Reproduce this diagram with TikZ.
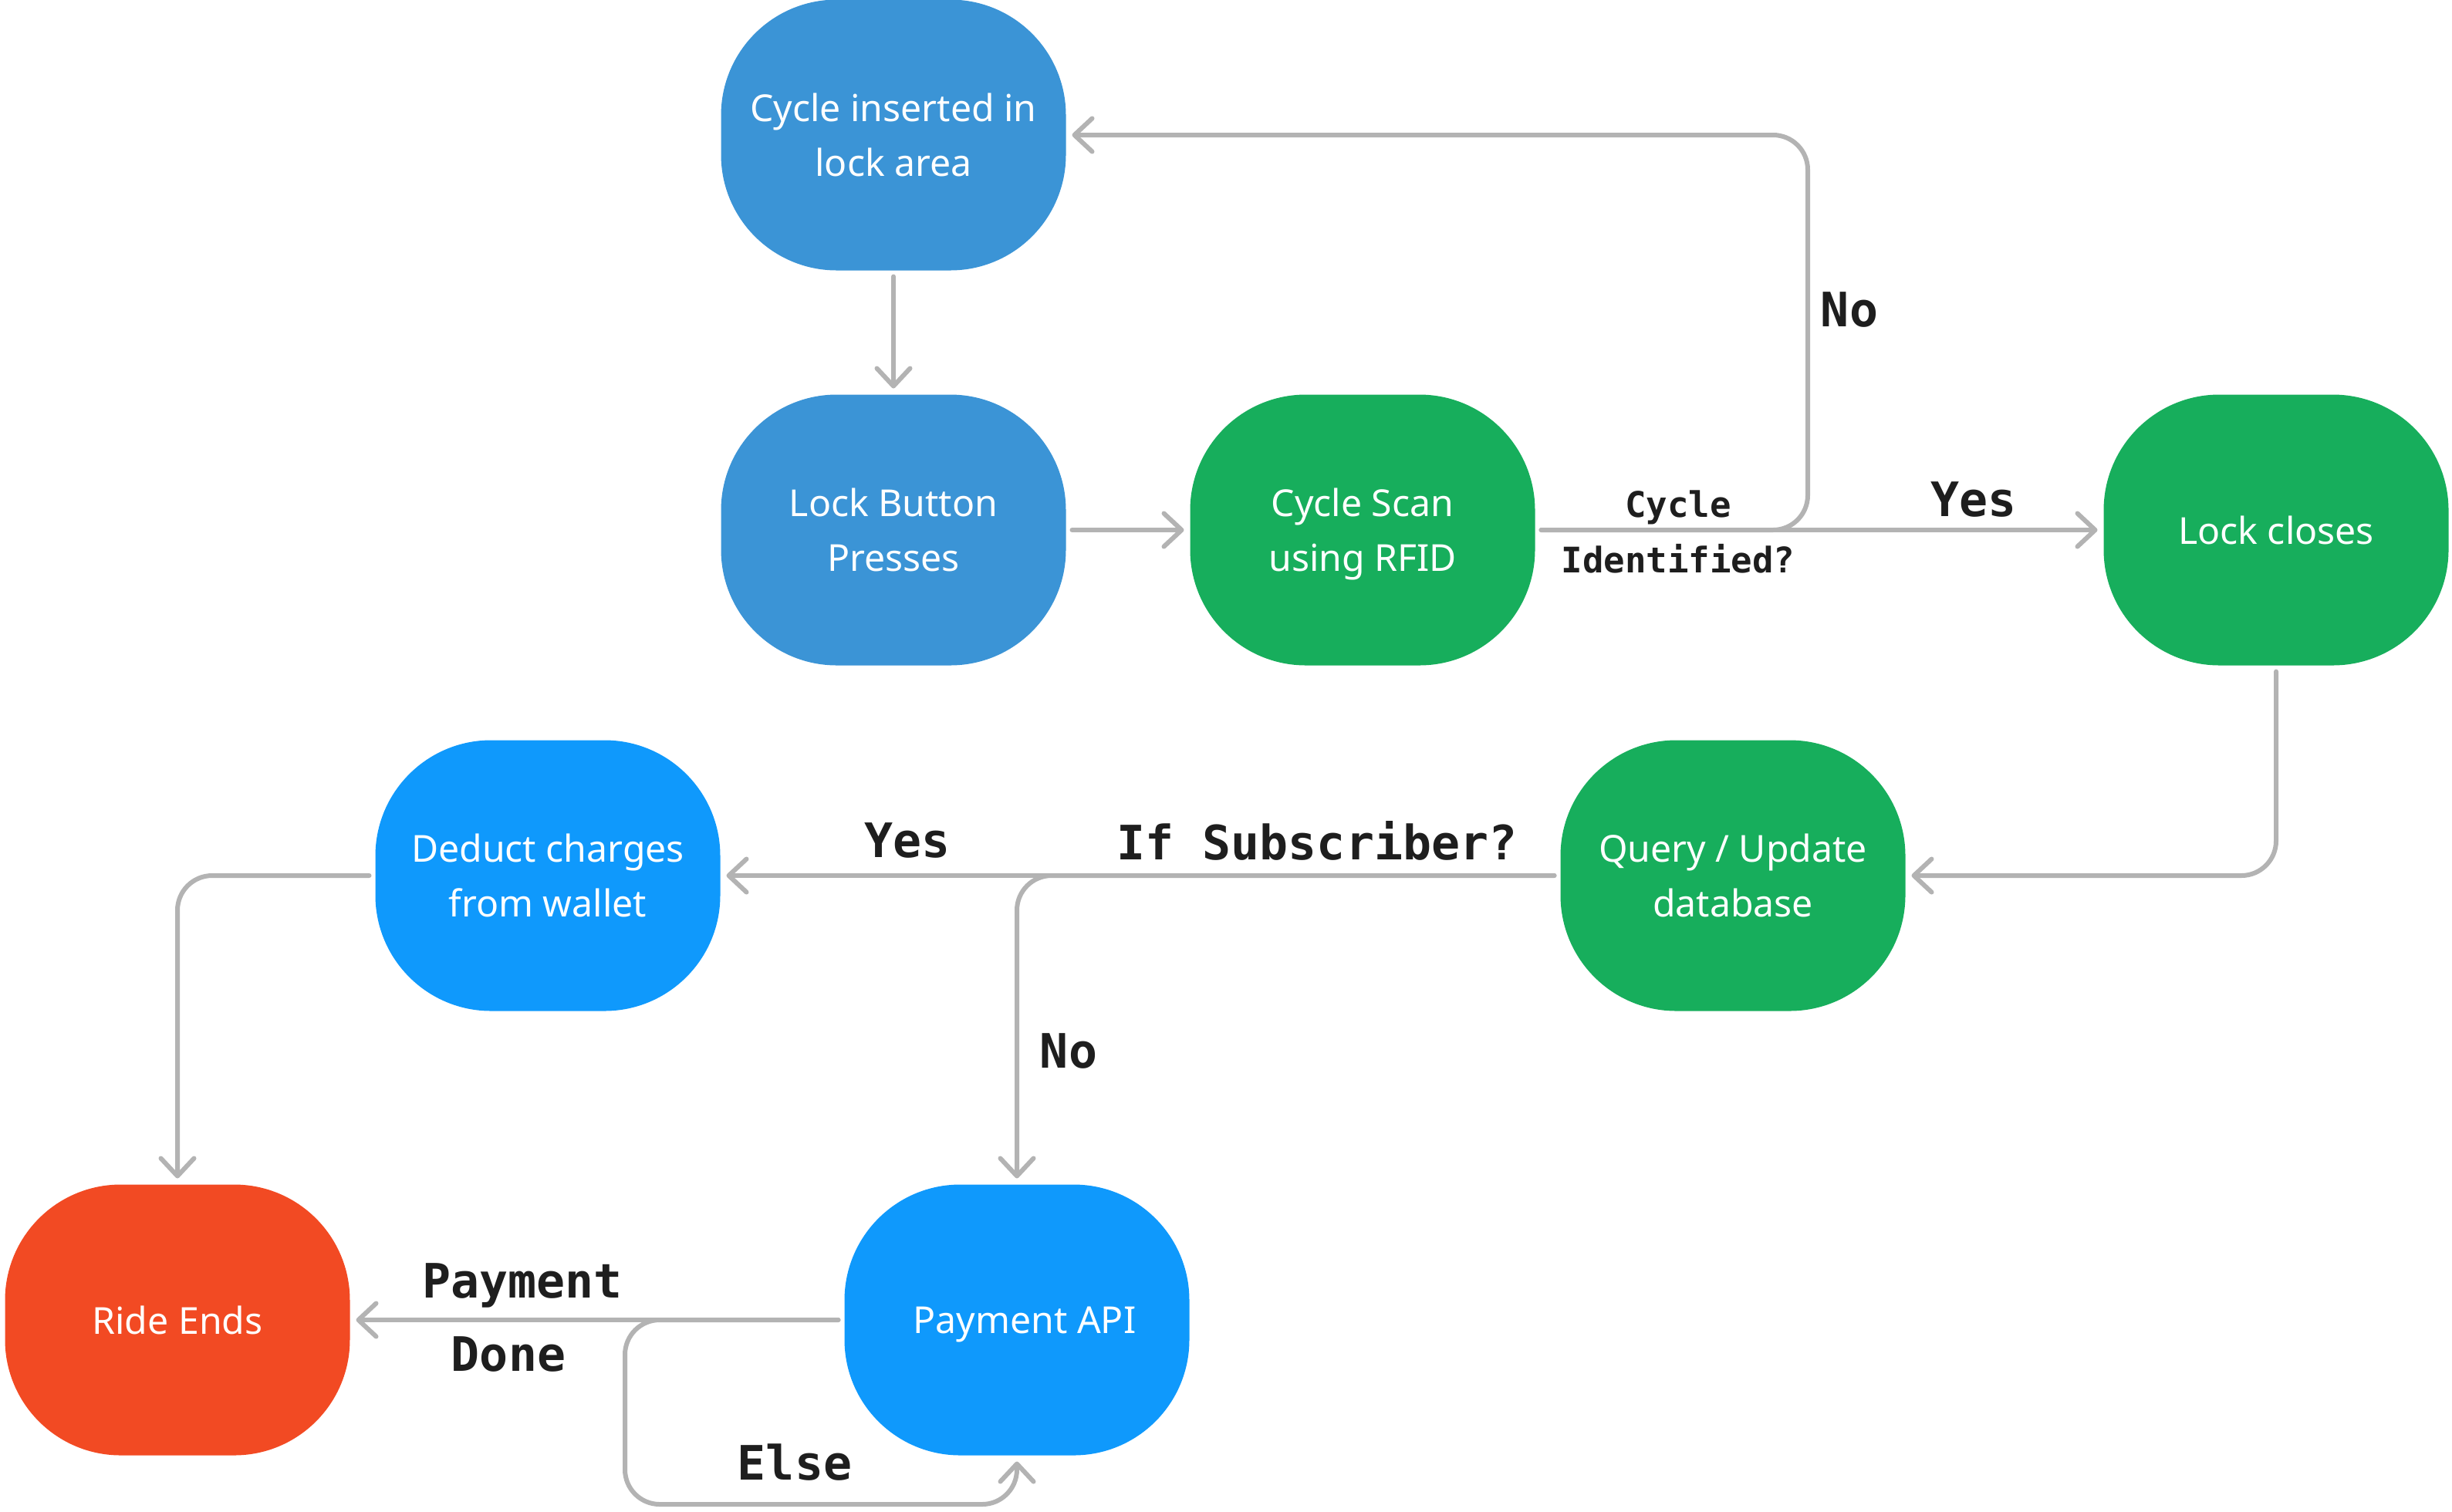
\documentclass[tikz,border=0pt]{standalone}
\usepackage{fontspec}
\setmainfont{Noto Sans}
\setmonofont{DejaVu Sans Mono}
\usetikzlibrary{arrows.meta}
\definecolor{steel}{HTML}{3B94D6}
\definecolor{leaf}{HTML}{17AE5C}
\definecolor{sky}{HTML}{0F99FC}
\definecolor{ember}{HTML}{F24A23}
\definecolor{wire}{HTML}{B3B3B3}
\definecolor{ink}{HTML}{1E1E1E}
\tikzset{
  stepnode/.style={rectangle, rounded corners=1.5cm, minimum width=4.47cm, minimum height=3.51cm,
    text=white, align=center, text depth=0pt, font=\fontsize{13.7}{20.3}\selectfont, outer sep=0.08cm},
  flow/.style={draw=wire, line width=0.06cm, line cap=round, line join=round, rounded corners=0.45cm,
    -{Straight Barb[round, length=0.23cm, width=0.43cm]}},
  tag/.style={text=ink, inner sep=0pt, text depth=0pt, font=\ttfamily\bfseries\fontsize{17.5}{21}\selectfont},
  smalltag/.style={tag, font=\ttfamily\bfseries\fontsize{13}{16}\selectfont}
}
\begin{document}
\begin{tikzpicture}
\useasboundingbox (0,0) rectangle (31.78,-19.59);
\node[stepnode, fill=steel] (cycle) at (11.58, -1.75) {Cycle inserted in\\lock area};
\node[stepnode, fill=steel] (button) at (11.58, -6.87) {Lock Button\\Presses};
\node[stepnode, fill=leaf] (scan) at (17.66, -6.87) {Cycle Scan\\using RFID};
\node[stepnode, fill=leaf] (lockc) at (29.50, -6.87) {Lock closes};
\node[stepnode, fill=leaf] (query) at (22.46, -11.35) {Query / Update\\database};
\node[stepnode, fill=sky] (deduct) at (7.10, -11.35) {Deduct charges\\from wallet};
\node[stepnode, fill=ember] (ride) at (2.30, -17.11) {Ride Ends};
\node[stepnode, fill=sky] (pay) at (13.18, -17.11) {\hspace*{0.2cm}Payment API};
\coordinate (noturn) at (23.43, -4);
\coordinate (elsedrop) at (8.10, -19.50);
\draw[flow] (cycle.south) -- (button.north);
\draw[flow] (button) -- (scan);
\draw[flow] (scan) -- (lockc);
\draw[flow] (scan.east) -| (noturn) |- (cycle.east);
\draw[flow] (lockc.south) |- (query.east);
\draw[flow] (query.west) -- (deduct.east);
\draw[flow] (query.west) -| (pay.north);
\draw[flow] (deduct.west) -| (ride.north);
\draw[flow] (pay.west) -- (ride.east);
\draw[flow] (pay.west) -| (elsedrop) -| (pay.south);
\node[smalltag] (cyclelbl) at (21.75, -6.53) {Cycle};
\node[smalltag] (identlbl) at (21.75, -7.24) {Identified?};
\node[tag] (yeslock) at (25.58, -6.47) {Yes};
\node[tag] (noback) at (23.97, -4.01) {No};
\node[tag] (subsclbl) at (17.07, -10.89) {If Subscriber?};
\node[tag] (yessub) at (11.76, -10.89) {Yes};
\node[tag] (nosub) at (13.85, -13.62) {No};
\node[tag] (paylbl) at (6.77, -16.60) {Payment};
\node[tag] (donelbl) at (6.59, -17.55) {Done};
\node[tag] (elselbl) at (10.30, -18.95) {Else};
\end{tikzpicture}
\end{document}
